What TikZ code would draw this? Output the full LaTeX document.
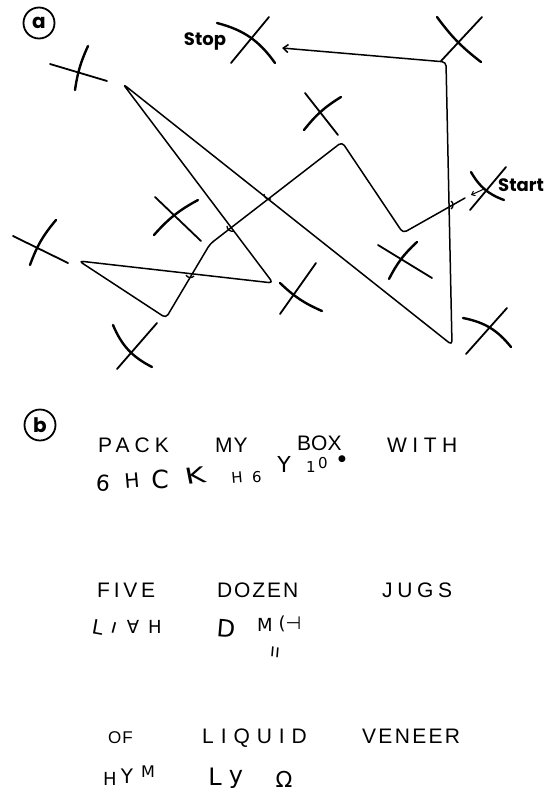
\documentclass[tikz,border=0pt]{standalone}
\usepackage{fontspec}
\setmainfont{Liberation Sans}
\newfontfamily\lblfont{Poppins}
\newfontfamily\handfont{DejaVu Sans}
\usetikzlibrary{arrows.meta}
\newcommand{\lsp}[2]{{\addfontfeature{LetterSpace=#1}#2}}
\begin{document}
\begin{tikzpicture}[x=1pt,y=-1pt,
  pathline/.style={line width=1.5pt, rounded corners=4pt, line join=round, line cap=round},
  xline/.style={line width=1.8pt, line cap=round},
  xcurve/.style={line width=2.4pt, line cap=round},
  bump/.style={line width=1.3pt},
  word/.style={anchor=base west, inner sep=0pt, font=\fontsize{21}{21}\selectfont},
  hand/.style={inner sep=0pt, font=\handfont\fontsize{20}{20}\selectfont},
  circlab/.style={circle, draw, line width=1.8pt, minimum size=31pt, inner sep=0pt, font=\lblfont\bfseries\fontsize{20}{20}\selectfont},
  lab/.style={anchor=base, inner sep=0pt, font=\lblfont\bfseries\fontsize{18}{18}\selectfont}
]
\useasboundingbox (0,0) rectangle (555,798);
% panel labels
\node[circlab] (pa) at (39,23) {\raisebox{1pt}{a}};
\node[circlab] (pb) at (40,425) {b};
% path coordinates
\coordinate (s0) at (465,198);
\coordinate (b1) at (403,233);
\coordinate (pk) at (342,142);
\coordinate (k1) at (210,244);
\coordinate (bt) at (166,318);
\coordinate (lt) at (79,261);
\coordinate (rt) at (273,283);
\coordinate (tp) at (123,84);
\coordinate (br) at (452,345);
\coordinate (tr) at (446,62);
\coordinate (stopend) at (282,48);
\draw[pathline, -{Straight Barb[length=5pt,width=8pt]}] (s0) -- (b1) -- (pk) -- (k1) -- (bt) -- (lt) -- (rt) -- (tp) -- (br) -- (tr) -- (stopend);
% small bridges where the line crosses itself
\coordinate (x1) at (451,205);
\coordinate (x2) at (190,275);
\coordinate (x3) at (230,230);
\coordinate (x4) at (267,198);
\draw[bump] ([shift={(0,-4)}]x1) to[bend left=60] ([shift={(0,4)}]x1);
\draw[bump] ([shift={(-4,0)}]x2) to[bend right=60] ([shift={(4,1)}]x2);
\draw[bump] ([shift={(-3,-4)}]x3) to[bend right=60] ([shift={(4,1)}]x3);
\draw[bump] ([shift={(-3,-4)}]x4) to[bend right=60] ([shift={(4,1)}]x4);
% start arrow
\coordinate (sa1) at (484,189);
\coordinate (sa2) at (471,195);
\draw[line width=1pt, -{Straight Barb[length=3pt,width=5pt]}] (sa1) -- (sa2);
% labels
\node[lab] (stop) at (205,45) {Stop};
\node[lab] (start) at (521,191) {Start};
% crosses
\draw[xline] (50,64) -- (107,81);
\draw[xcurve] (88,46) to[bend right=8] (75,90);
\draw[xline] (269,17) -- (231,63);
\draw[xcurve] (217,23) to[bend left=20] (275,63);
\draw[xline] (482,17) -- (441,61);
\draw[xcurve] (437,17) to[bend right=8] (481,62);
\draw[xline] (305,93) -- (338,135);
\draw[xcurve] (341,97) to[bend right=10] (304,130);
\draw[xline] (506,167) -- (470,210);
\draw[xcurve] (471,172) to[bend right=20] (504,200);
\draw[xline] (155,197) -- (201,241);
\draw[xcurve] (198,200) to[bend right=10] (154,235);
\draw[xline] (13,236) -- (68,263);
\draw[xcurve] (56,220) to[bend right=10] (30,265);
\draw[xline] (157,323) -- (117,369);
\draw[xcurve] (113,325) to[bend right=20] (152,367);
\draw[xline] (316,263) -- (280,314);
\draw[xcurve] (280,283) to[bend right=10] (322,311);
\draw[xline] (378,245) -- (432,278);
\draw[xcurve] (417,242) to[bend right=10] (389,279);
\draw[xline] (507,308) -- (466,354);
\draw[xcurve] (463,318) to[bend left=20] (511,347);
% panel b printed words
\node[word] (w1) at (98,452) {\lsp{24}{PACK}};
\node[word] (w2) at (215,452) {\lsp{5}{MY}};
\node[word] (w3) at (297,450) {BOX};
\node[word] (w4) at (387,452) {\lsp{26}{WITH}};
\node[word] (w5) at (97,597) {\lsp{18}{FIVE}};
\node[word] (w6) at (217,597) {\lsp{9}{DOZEN}};
\node[word] (w7) at (382,597) {\lsp{22}{JUGS}};
\node[word, font=\fontsize{17}{17}\selectfont] (w8) at (108,743) {\lsp{5}{OF}};
\node[word] (w9) at (202,743) {\lsp{33}{LIQUID}};
\node[word] (w10) at (362,743) {\lsp{11}{VENEER}};
% panel b copies
\node[hand, font=\handfont\fontsize{22}{22}\selectfont, rotate=-5] (h1) at (103,483) {6};
\node[hand, font=\handfont\fontsize{20}{20}\selectfont, rotate=5] (h2) at (132,481) {H};
\node[hand, font=\handfont\fontsize{25}{25}\selectfont] (h3) at (160,479) {C};
\node[hand, font=\handfont\fontsize{22}{22}\selectfont, xscale=1.4, rotate=8] (h4) at (195,476) {K};
\node[hand, font=\handfont\fontsize{15}{15}\selectfont, rotate=5] (h5) at (237,478) {H};
\node[hand, font=\handfont\fontsize{15}{15}\selectfont] (h6) at (257,477) {6};
\node[hand, font=\handfont\fontsize{22}{22}\selectfont] (h7) at (284,464) {Y};
\node[hand, font=\handfont\fontsize{15}{15}\selectfont] (h8a) at (311,467) {1};
\node[hand, font=\handfont\fontsize{15}{15}\selectfont] (h8b) at (323,463) {0};
\node[hand, font=\handfont\fontsize{9}{9}\selectfont] (h9) at (342,459) {●};
\node[hand, rotate=-10] (h10) at (98,627) {L};
\node[hand, rotate=-15] (h11) at (114,628) {ı};
\node[hand, font=\handfont\fontsize{18}{18}\selectfont] (h12) at (133,627) {∀};
\node[hand, font=\handfont\fontsize{18}{18}\selectfont] (h13) at (155,627) {H};
\node[hand, font=\handfont\fontsize{24}{24}\selectfont, rotate=-5] (h14) at (226,629) {D};
\node[hand, font=\handfont\fontsize{18}{18}\selectfont] (h15) at (265,625) {M};
\node[hand, font=\handfont\fontsize{18}{18}\selectfont] (h16) at (290,624) {(⊣};
\node[hand, font=\handfont\fontsize{18}{18}\selectfont, rotate=-5] (h17) at (275,652) {ıı};
\node[hand, font=\handfont\fontsize{18}{18}\selectfont] (h18) at (110,779) {H};
\node[hand, font=\handfont\fontsize{20}{20}\selectfont] (h19) at (127,776) {Y};
\node[hand, font=\handfont\fontsize{16}{16}\selectfont] (h20) at (148,772) {M};
\node[hand, font=\handfont\fontsize{24}{24}\selectfont] (h21) at (215,777) {L};
\node[hand, font=\handfont\fontsize{24}{24}\selectfont] (h22) at (236,779) {y};
\node[hand, font=\handfont\fontsize{22}{22}\selectfont] (h23) at (284,779) {Ω};
\end{tikzpicture}
\end{document}
